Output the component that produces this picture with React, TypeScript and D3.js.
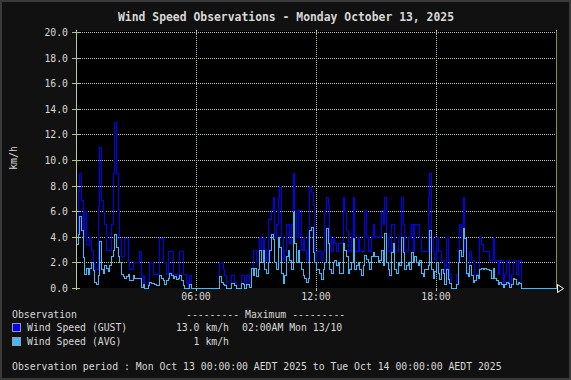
import React from "react";
import * as d3 from "d3";

// 5-minute observations, 00:00 .. 23:55 (12 per hour)
const gust: number[] = [
  3.5, 7.6, 9.0, 6.9, 4.0, 6.0, 3.4, 3.4, 4.0, 3.0, 2.0, 1.5,
  1.5, 6.4, 11.0, 6.9, 6.0, 5.0, 3.0, 3.0, 3.0, 5.0, 9.0, 13.0,
  9.0, 6.0, 3.9, 2.5, 2.5, 3.9, 3.9, 2.0, 1.5, 1.5, 2.0, 2.0,
  2.0, 2.0, 2.9, 0.5, 1.0, 0, 0, 0.5, 2.0, 2.0, 1.1, 1.1,
  1.1, 1.1, 3.9, 3.9, 2.0, 2.0, 1.1, 2.9, 2.9, 2.9, 1.1, 1.1,
  1.1, 1.1, 2.9, 2.9, 1.1, 1.1, 0.5, 0, 1.0, 0, 0, 0,
  0, 0, 0, 0, 0, 0, 0, 0, 0, 0, 0, 0,
  0, 0, 2.0, 2.0, 1.5, 1.0, 0, 0, 0, 1.0, 1.0, 0.5,
  0, 0, 0, 1.0, 1.0, 0, 1.0, 1.0, 0.5, 1.6, 3.0, 3.0,
  2.0, 2.0, 4.0, 3.0, 4.0, 3.0, 2.2, 5.4, 5.4, 6.1, 7.1, 4.0,
  5.0, 7.0, 8.0, 4.0, 2.2, 3.0, 5.0, 5.0, 3.5, 5.0, 9.0, 6.1,
  4.0, 6.1, 6.1, 3.0, 4.0, 3.0, 2.2, 4.4, 8.0, 7.5, 6.5, 2.2,
  2.9, 2.9, 2.9, 2.2, 2.9, 6.1, 7.1, 6.5, 4.0, 2.9, 4.0, 3.5,
  2.9, 3.5, 3.5, 3.5, 7.1, 6.0, 4.5, 2.9, 2.9, 4.0, 7.1, 2.9,
  2.9, 4.0, 2.9, 2.9, 2.9, 6.1, 4.0, 2.9, 2.9, 4.0, 5.0, 4.0,
  4.0, 4.0, 4.0, 6.1, 5.0, 7.1, 4.0, 2.9, 2.9, 5.0, 5.0, 2.9,
  2.9, 4.0, 4.0, 7.1, 5.0, 2.9, 2.9, 4.0, 4.0, 5.0, 2.9, 5.0,
  5.0, 5.0, 4.0, 2.9, 2.9, 2.9, 2.9, 7.1, 9.0, 4.0, 2.9, 2.2,
  4.0, 2.9, 2.9, 2.2, 2.2, 1.1, 4.0, 2.2, 1.1, 0, 0, 0,
  1.1, 2.9, 5.0, 4.0, 7.1, 2.9, 1.1, 1.1, 2.9, 2.2, 2.2, 1.1,
  1.1, 1.1, 4.0, 3.4, 2.9, 2.9, 2.9, 2.9, 2.2, 2.2, 4.0, 2.2,
  2.2, 1.1, 2.2, 2.2, 0.3, 1.1, 2.2, 2.2, 0.3, 1.1, 2.2, 2.2,
  1.1, 2.2, 2.2, 0, 0, 0, 0, 0, 0, 0, 0, 0,
  0, 0, 0, 0, 0, 0, 0, 0, 0, 0, 0, 0,
];

const avg: number[] = [
  3.4, 4.2, 5.6, 4.5, 2.4, 1.1, 1.6, 1.1, 1.6, 2.0, 1.4, 0.5,
  0.3, 1.0, 3.7, 1.5, 1.2, 1.8, 1.6, 1.3, 1.8, 2.5, 3.0, 4.2,
  3.2, 2.5, 2.0, 1.1, 0.9, 0.8, 0.9, 1.1, 0.6, 0.6, 1.0, 0.8,
  0.8, 0.8, 0.8, 0.1, 0.3, 0, 0, 0.2, 0.5, 0.4, 0.4, 0.3,
  0.2, 0.2, 1.0, 0.8, 0.6, 0.3, 0.6, 0.8, 1.2, 1.0, 0.8, 0.9,
  0.7, 0.8, 1.0, 0.6, 0.2, 0, 0, 0, 0.3, 0, 0, 0,
  0, 0, 0, 0, 0, 0, 0, 0, 0, 0, 0, 0,
  0, 0, 0.9, 0.5, 0.3, 0.2, 0, 0, 0, 0.4, 0.4, 0.2,
  0, 0, 0, 0.4, 0.3, 0, 0.3, 0.3, 0.1, 1.6, 1.0, 1.6,
  0.9, 1.5, 3.0, 2.0, 3.0, 1.5, 1.2, 2.0, 3.0, 4.2, 3.8, 2.0,
  1.5, 4.0, 3.2, 1.2, 0.4, 1.0, 2.5, 3.0, 2.2, 1.5, 5.9, 3.5,
  2.0, 3.0, 2.0, 1.5, 1.0, 0.8, 0.5, 0.8, 4.5, 4.8, 2.8, 2.0,
  1.5, 1.5, 1.2, 0.7, 1.5, 2.0, 4.7, 3.5, 1.5, 1.2, 2.0, 2.2,
  1.8, 2.0, 1.2, 1.2, 3.5, 3.0, 2.5, 1.2, 1.5, 2.0, 3.9, 1.5,
  1.8, 2.0, 1.5, 1.0, 1.8, 2.6, 2.3, 2.0, 1.5, 2.5, 2.8, 2.5,
  2.5, 2.0, 2.2, 3.0, 1.8, 4.3, 2.0, 1.5, 1.0, 2.8, 3.5, 1.5,
  1.2, 2.0, 1.8, 4.0, 2.8, 1.5, 1.8, 2.0, 1.5, 2.8, 2.0, 2.5,
  2.0, 1.8, 2.2, 1.2, 0.9, 1.5, 1.5, 1.8, 4.5, 1.5, 0.8, 1.3,
  2.0, 1.2, 0.7, 1.5, 1.2, 0.3, 1.5, 0.7, 0.4, 0, 0, 0,
  0.3, 2.0, 3.0, 2.5, 4.7, 3.9, 1.2, 0.9, 1.8, 1.0, 0.5, 0.6,
  1.0, 0.8, 1.5, 1.6, 1.5, 1.6, 1.5, 1.5, 1.4, 0.8, 1.6, 0.8,
  0.6, 0.3, 0.5, 0.3, 0.1, 0.3, 0.5, 0.4, 0.1, 0.3, 0.8, 0.7,
  0.3, 0.5, 0.4, 0, 0, 0, 0, 0, 0, 0, 0, 0,
  0, 0, 0, 0, 0, 0, 0, 0, 0, 0, 0, 0,
];

const yTicks: number[] = [0, 2, 4, 6, 8, 10, 12, 14, 16, 18, 20];
const xTickHours: number[] = [6, 12, 18];
const xTickLabels: string[] = ["06:00", "12:00", "18:00"];

const titleText = "Wind Speed Observations - Monday October 13, 2025";
const seriesNames: string[] = ["Wind Speed (GUST)", "Wind Speed (AVG)"];
const seriesColors: string[] = ["#0000ff", "#3cbcff"];
const maxValues: string[] = ["13.0 km/h", "1 km/h"];
const maxTimes: string[] = ["02:00AM Mon 13/10", ""];
const periodText =
  "Observation period : Mon Oct 13 00:00:00 AEDT 2025 to Tue Oct 14 00:00:00 AEDT 2025";

const W = 571;
const H = 380;
const L = 76;
const R = 556;
const T = 32;
const B = 288;

const FONT = "'DejaVu Sans Mono', monospace";
const TXT = "#d8d8d8";
const GRID = "#b4d4a4";

export default function App() {
  const x = d3.scaleLinear().domain([0, 24]).range([L, R]);
  const y = d3.scaleLinear().domain([0, 20]).range([B, T]);

  const toPts = (arr: number[]) => {
    const pts = arr.map((v, i) => ({ t: i / 12, v }));
    pts.push({ t: 24, v: arr[arr.length - 1] });
    return pts;
  };
  const line = d3
    .line<{ t: number; v: number }>()
    .x((d) => Math.round(x(d.t)) + 0.5)
    .y((d) => Math.round(y(d.v)) + 0.5)
    .curve(d3.curveStepAfter);

  const ry = (v: number) => Math.round(y(v)) + 0.5;
  const rx = (t: number) => Math.round(x(t)) + 0.5;

  return (
    <svg
      width={W}
      height={H}
      style={{ position: "absolute", left: 0, top: 0, display: "block" }}
      fontFamily={FONT}
    >
      <rect x={0} y={0} width={W} height={H} fill="#3a3a3a" />
      <rect x={2} y={2} width={W - 4} height={H - 4} fill="#111111" />
      <rect x={L} y={T - 1} width={R - L} height={B - T + 1} fill="#000" />

      {/* horizontal grid */}
      {yTicks
        .filter((v) => v > 0)
        .map((v) => (
          <line
            key={"hg" + v}
            x1={L}
            x2={R}
            y1={ry(v)}
            y2={ry(v)}
            stroke={GRID}
            strokeDasharray="1,1"
            shapeRendering="crispEdges"
          />
        ))}
      {/* vertical grid */}
      {xTickHours.map((h) => (
        <line
          key={"vg" + h}
          x1={rx(h)}
          x2={rx(h)}
          y1={T}
          y2={B}
          stroke={GRID}
          strokeDasharray="1,1"
          shapeRendering="crispEdges"
        />
      ))}
      {/* top ticks */}
      {[0, ...xTickHours, 24].map((h) => (
        <line
          key={"tt" + h}
          x1={rx(h)}
          x2={rx(h)}
          y1={T - 2}
          y2={T + 3}
          stroke="#a8c890"
          shapeRendering="crispEdges"
        />
      ))}

      {/* right border */}
      <line x1={R + 0.5} x2={R + 0.5} y1={T - 1} y2={B} stroke="#8a8a3c" shapeRendering="crispEdges" />

      {/* series */}
      <path d={line(toPts(gust)) || ""} fill="none" stroke={seriesColors[0]} strokeWidth={1} shapeRendering="crispEdges" />
      <path d={line(toPts(avg)) || ""} fill="none" stroke={seriesColors[1]} strokeWidth={1} shapeRendering="crispEdges" />

      {/* left axis */}
      <line x1={L + 0.5} x2={L + 0.5} y1={T - 2} y2={B + 2} stroke="#b8cc88" shapeRendering="crispEdges" />
      {yTicks.map((v) => (
        <g key={"yt" + v}>
          <line x1={L - 4} x2={L + 4} y1={ry(v)} y2={ry(v)} stroke="#a8c890" shapeRendering="crispEdges" />
          <text x={68} y={ry(v) + 3.5} textAnchor="end" fontSize={9.8} fill={TXT}>
            {v.toFixed(1)}
          </text>
        </g>
      ))}
      <text
        transform={`translate(16.5,158) rotate(-90)`}
        textAnchor="middle"
        fontSize={9.8}
        fill={TXT}
      >
        km/h
      </text>

      {/* bottom axis */}
      {xTickHours.map((h, i) => (
        <g key={"xt" + h}>
          <line x1={rx(h)} x2={rx(h)} y1={B} y2={B + 3} stroke="#a8c890" shapeRendering="crispEdges" />
          <text x={x(h)} y={300} textAnchor="middle" fontSize={9.8} fill={TXT}>
            {xTickLabels[i]}
          </text>
        </g>
      ))}
      <path
        d={`M${R + 1.5},${B - 3.5} L${R + 7.5},${B + 0.5} L${R + 1.5},${B + 4.5} Z`}
        fill="none"
        stroke="#ffffff"
        strokeWidth={1}
      />

      {/* title */}
      <text
        x={286}
        y={20.5}
        textAnchor="middle"
        fontSize={11.4}
        fontWeight="bold"
        fill={TXT}
      >
        {titleText}
      </text>

      {/* legend */}
      <g fontSize={9.8} fill={TXT}>
        <text x={12} y={318}>Observation</text>
        <text x={186} y={318}>--------- Maximum ---------</text>
        {seriesNames.map((n, i) => (
          <g key={n}>
            <rect
              x={12.5}
              y={323.5 + i * 14}
              width={8}
              height={8}
              fill={seriesColors[i]}
              stroke="#9a9a9a"
            />
            <text x={27} y={331 + i * 13.5}>{n}</text>
            <text x={229} y={331 + i * 13.5} textAnchor="end">{maxValues[i]}</text>
            <text x={242} y={331 + i * 13.5}>{maxTimes[i]}</text>
          </g>
        ))}
        <text x={12} y={370}>{periodText}</text>
      </g>
    </svg>
  );
}
